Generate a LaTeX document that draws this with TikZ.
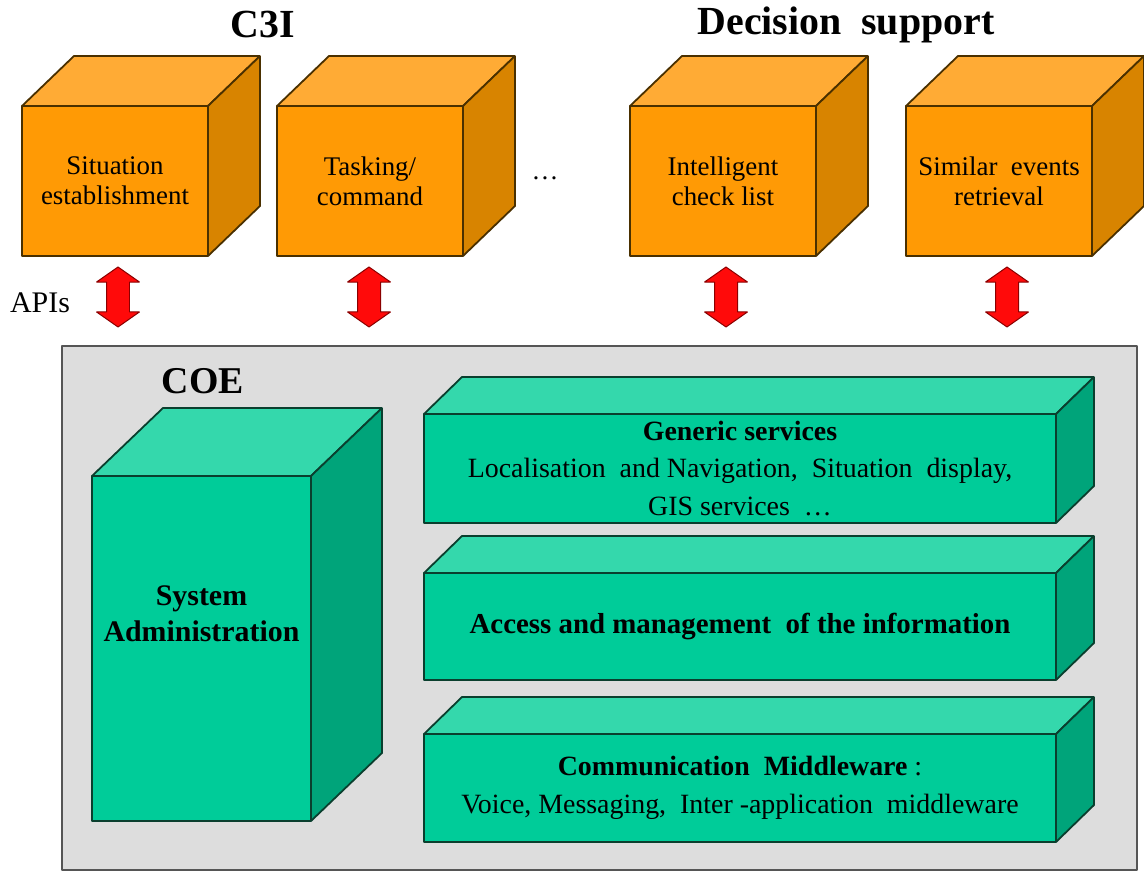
\documentclass[tikz,border=0pt]{standalone}
\usepackage{fontspec}
\setmainfont{Liberation Serif}
\usepackage{tikz}
\usetikzlibrary{shapes,arrows,positioning,calc}

\definecolor{orfront}{HTML}{FF9A05}
\definecolor{ortop}{HTML}{FFAB35}
\definecolor{orside}{HTML}{D88400}
\definecolor{oredge}{HTML}{4A3000}
\definecolor{grfront}{HTML}{00CC99}
\definecolor{grtop}{HTML}{34D8AC}
\definecolor{grside}{HTML}{00A47A}
\definecolor{gredge}{HTML}{0A3F2E}
\definecolor{coegray}{HTML}{DDDDDD}
\definecolor{coeedge}{HTML}{555555}
\definecolor{apired}{HTML}{FF0A0A}
\definecolor{apiedge}{HTML}{8A0000}

\begin{document}
\begin{tikzpicture}[>=latex',line join=bevel,
  orbox/.style={draw=oredge,fill=orfront,line width=0.9pt,inner sep=0pt,outer sep=0pt,
    minimum width=93bp,minimum height=75bp,align=center,font=\fontsize{13.5}{15}\selectfont},
  ortopface/.style={draw=oredge,fill=ortop,line width=0.9pt},
  orsideface/.style={draw=oredge,fill=orside,line width=0.9pt},
  grbox/.style={draw=gredge,fill=grfront,line width=0.9pt,inner sep=0pt,outer sep=0pt,align=center},
  grtopface/.style={draw=gredge,fill=grtop,line width=0.9pt},
  grsideface/.style={draw=gredge,fill=grside,line width=0.9pt},
  barbox/.style={grbox,minimum width=316bp,font=\fontsize{14}{19}\selectfont},
  apiarrow/.style={double arrow,shape border rotate=90,draw=apiedge,fill=apired,line width=0.5pt,
    minimum height=30bp,double arrow head extend=5bp,
    double arrow tip angle=110,inner sep=0pt},
  title/.style={font=\fontsize{20}{24}\selectfont\bfseries},
]
\useasboundingbox (0bp,0bp) rectangle (572bp,437.5bp);
%%
\node (c3i) at (131.5bp,425bp) [title] {C3I};
\node (decision) at (423bp,425bp) [title] {Decision\ \ support};
%
\node (sit) at (57.5bp,347bp) [orbox] {Situation\\establishment};
  \filldraw [ortopface] (sit.north west) -- ++(26bp,25bp) -- ([shift={(26bp,25bp)}]sit.north east) -- (sit.north east) -- cycle;
  \filldraw [orsideface] (sit.north east) -- ++(26bp,25bp) -- ([shift={(26bp,25bp)}]sit.south east) -- (sit.south east) -- cycle;
\node (task) at (185bp,347bp) [orbox] {Tasking/\\command};
  \filldraw [ortopface] (task.north west) -- ++(26bp,25bp) -- ([shift={(26bp,25bp)}]task.north east) -- (task.north east) -- cycle;
  \filldraw [orsideface] (task.north east) -- ++(26bp,25bp) -- ([shift={(26bp,25bp)}]task.south east) -- (task.south east) -- cycle;
\node (dots) at (272.5bp,348.5bp) {\fontsize{13.5}{15}\selectfont\dots};
\node (check) at (361.5bp,347bp) [orbox] {Intelligent\\check list};
  \filldraw [ortopface] (check.north west) -- ++(26bp,25bp) -- ([shift={(26bp,25bp)}]check.north east) -- (check.north east) -- cycle;
  \filldraw [orsideface] (check.north east) -- ++(26bp,25bp) -- ([shift={(26bp,25bp)}]check.south east) -- (check.south east) -- cycle;
\node (events) at (499.5bp,347bp) [orbox] {Similar\ \ events\\retrieval};
  \filldraw [ortopface] (events.north west) -- ++(26bp,25bp) -- ([shift={(26bp,25bp)}]events.north east) -- (events.north east) -- cycle;
  \filldraw [orsideface] (events.north east) -- ++(26bp,25bp) -- ([shift={(26bp,25bp)}]events.south east) -- (events.south east) -- cycle;
%
\node (apis) at (20bp,286bp) [font=\fontsize{15}{18}\selectfont] {APIs};
\node (api1) at (59bp,289bp) [apiarrow] {\rule{11bp}{0pt}};
\node (api2) at (184.5bp,289bp) [apiarrow] {\rule{11bp}{0pt}};
\node (api3) at (363bp,289bp) [apiarrow] {\rule{11bp}{0pt}};
\node (api4) at (503.5bp,289bp) [apiarrow] {\rule{11bp}{0pt}};
%
\node (coe) at (299.75bp,133.5bp) [draw=coeedge,fill=coegray,line width=0.9pt,minimum width=537.5bp,minimum height=262bp,inner sep=0pt] {};
\node (coelabel) at (101.5bp,247bp) [font=\fontsize{19}{22}\selectfont\bfseries] {COE};
%
\node (sysadmin) at (100.75bp,113.25bp) [grbox,minimum width=109.5bp,minimum height=172.5bp] {};
  \filldraw [grtopface] (sysadmin.north west) -- ++(35.5bp,34bp) -- ([shift={(35.5bp,34bp)}]sysadmin.north east) -- (sysadmin.north east) -- cycle;
  \filldraw [grsideface] (sysadmin.north east) -- ++(35.5bp,34bp) -- ([shift={(35.5bp,34bp)}]sysadmin.south east) -- (sysadmin.south east) -- cycle;
\node (sysadmintxt) at ([yshift=17.25bp]sysadmin.center) [align=center,font=\fontsize{15}{18}\selectfont\bfseries] {System\\Administration};
%
\node (generic) at (370bp,203.25bp) [barbox,minimum height=54.5bp] {\textbf{Generic services}\\Localisation\ \ and Navigation,\ \ Situation\ \ display,\\GIS services\ \ \dots};
  \filldraw [grtopface] (generic.north west) -- ++(19bp,18.5bp) -- ([shift={(19bp,18.5bp)}]generic.north east) -- (generic.north east) -- cycle;
  \filldraw [grsideface] (generic.north east) -- ++(19bp,18.5bp) -- ([shift={(19bp,18.5bp)}]generic.south east) -- (generic.south east) -- cycle;
\node (access) at (370bp,124.25bp) [barbox,minimum height=53.5bp,font=\fontsize{14.5}{19}\selectfont\bfseries] {Access and management\ \ of the information};
  \filldraw [grtopface] (access.north west) -- ++(19bp,18.5bp) -- ([shift={(19bp,18.5bp)}]access.north east) -- (access.north east) -- cycle;
  \filldraw [grsideface] (access.north east) -- ++(19bp,18.5bp) -- ([shift={(19bp,18.5bp)}]access.south east) -- (access.south east) -- cycle;
\node (comm) at (370bp,43.5bp) [barbox,minimum height=54bp] {\textbf{Communication\ \ Middleware} :\\Voice, Messaging,\ \ Inter -application\ \ middleware};
  \filldraw [grtopface] (comm.north west) -- ++(19bp,18.5bp) -- ([shift={(19bp,18.5bp)}]comm.north east) -- (comm.north east) -- cycle;
  \filldraw [grsideface] (comm.north east) -- ++(19bp,18.5bp) -- ([shift={(19bp,18.5bp)}]comm.south east) -- (comm.south east) -- cycle;
%
\end{tikzpicture}
\end{document}
